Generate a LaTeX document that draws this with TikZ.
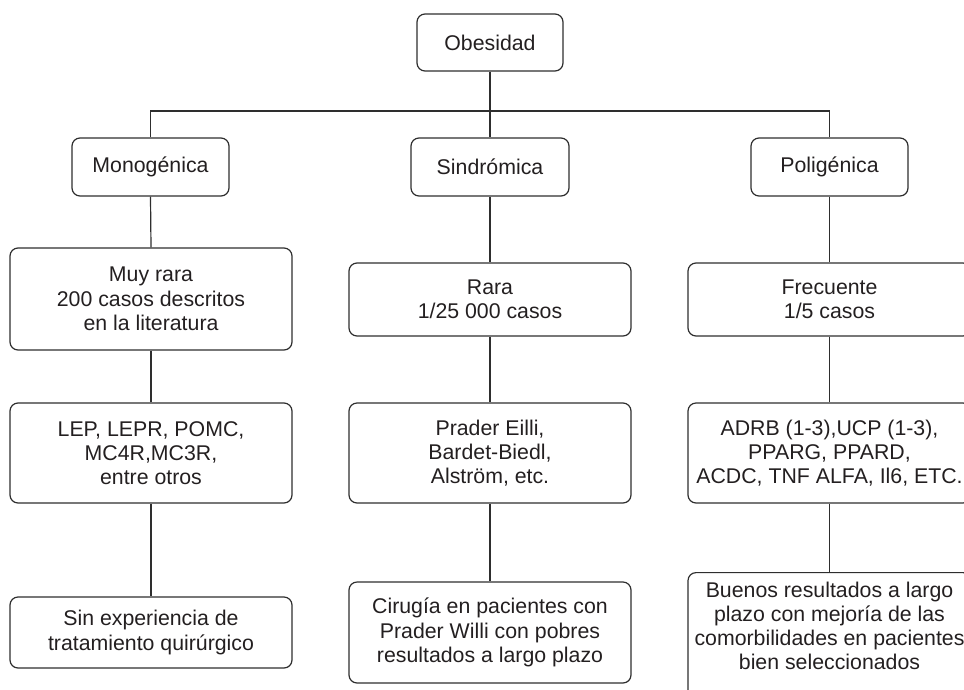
\documentclass[tikz,border=0pt]{standalone}
\usepackage{fontspec}
\setmainfont{Liberation Sans}
\definecolor{linec}{HTML}{2E2E2E}
\definecolor{textc}{HTML}{231F20}
\begin{document}
\begin{tikzpicture}[x=1pt,y=-1pt,
  box/.style={draw=linec, line width=1.2pt, rounded corners=8pt, align=center,
    font=\fontsize{21.3}{24.3}\selectfont, text=textc, inner sep=0pt},
  conn/.style={draw=linec, line width=1.2pt}]
\useasboundingbox (0,0) rectangle (964,689);
\clip (0,0) rectangle (964,689);
% level 0
\node[box, minimum width=146, minimum height=57] (obes) at (490,42.5) {Obesidad};
% level 1
\node[box, minimum width=157, minimum height=58] (mono) at (150.5,167) {Monogénica};
\node[box, minimum width=158, minimum height=58] (sind) at (490,167) {Sindrómica};
\node[box, minimum width=157, minimum height=58] (poli) at (829.5,167) {Poligénica};
% level 2
\node[box, minimum width=282, minimum height=102] (mrara) at (151,299) {Muy rara\\200 casos descritos\\en la literatura};
\node[box, minimum width=282, minimum height=73] (rara) at (490,299.5) {Rara\\1/25 000 casos};
\node[box, minimum width=283, minimum height=73] (frec) at (829.5,299.5) {Frecuente\\1/5 casos};
% level 3
\node[box, minimum width=282, minimum height=100] (lep) at (151,453) {LEP, LEPR, POMC,\\MC4R,MC3R,\\entre otros};
\node[box, minimum width=282, minimum height=100] (prad) at (490,453) {Prader Eilli,\\Bardet-Biedl,\\Alström, etc.};
\node[box, minimum width=283, minimum height=100] (adrb) at (829.5,453) {ADRB (1-3),UCP (1-3),\\PPARG, PPARD,\\ACDC, TNF ALFA, Il6, ETC.};
% level 4
\node[box, minimum width=282, minimum height=71] (sinexp) at (151,632.5) {Sin experiencia de\\tratamiento quirúrgico};
\node[box, minimum width=282, minimum height=101] (ciru) at (490,632.5) {Cirugía en pacientes con\\Prader Willi con pobres\\resultados a largo plazo};
\node[box, anchor=north, minimum width=283] (buen) at (829.5,572)
  {\parbox[c][130pt][t]{283pt}{\centering\vspace*{9pt}Buenos resultados a largo\\plazo con mejoría de las\\comorbilidades en pacientes\\bien seleccionados}};
% connectors
\coordinate (bar) at (490,111);
\draw[conn] (obes.south) -- (sind.north);
\draw[conn] (mono.north) -- (mono.north |- bar) -| (poli.north);
\draw[conn] (mono.south) -- (mrara.north);
\draw[conn] (sind.south) -- (rara.north);
\draw[conn] (poli.south) -- (frec.north);
\draw[conn] (mrara.south) -- (lep.north);
\draw[conn] (rara.south) -- (prad.north);
\draw[conn] (frec.south) -- (adrb.north);
\draw[conn] (lep.south) -- (sinexp.north);
\draw[conn] (prad.south) -- (ciru.north);
\draw[conn] (adrb.south) -- (buen.north);
\end{tikzpicture}
\end{document}
